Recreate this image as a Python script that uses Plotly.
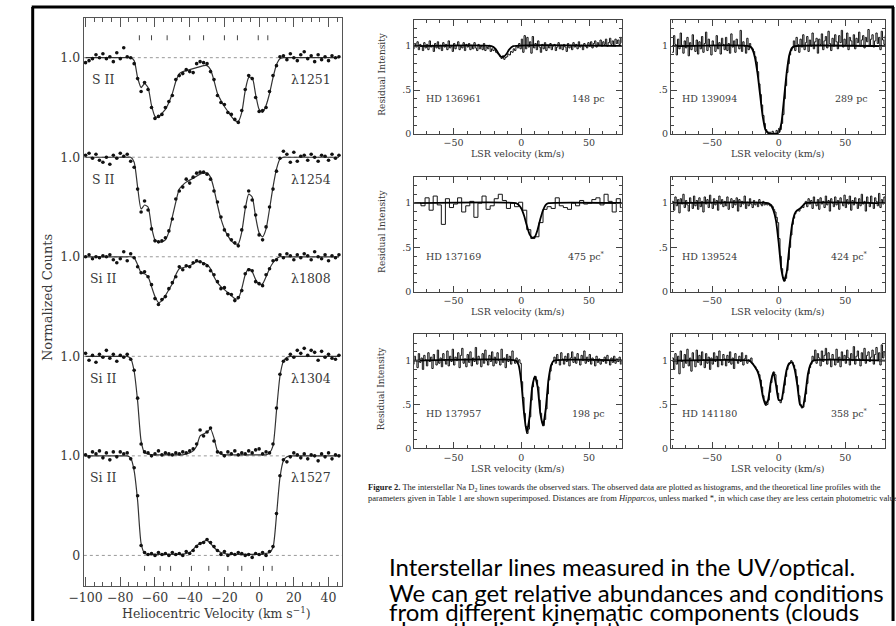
import plotly.graph_objects as go

W, H = 896, 626
def fx(p): return p / W
def fy(p): return 1 - p / H

SERIF = "DejaVu Serif"
GREY = "#3a3a3a"

# ---------------- Left panel: UV absorption lines (normalized counts) -------------
V_LEFT = list(range(-100, 48, 2))  # heliocentric velocity grid (km/s)

S2_1251_FIT = [1, 1, 1, 1, 1, 1, 1, 1, 1, 1, 1, 1, 1, 1,
               0.97, 0.80, 0.70, 0.74, 0.70, 0.52, 0.41, 0.40, 0.44, 0.48, 0.55, 0.64, 0.76, 0.84, 0.86,
               0.87, 0.88, 0.89, 0.90, 0.91, 0.92, 0.92, 0.88, 0.77, 0.64, 0.57, 0.51, 0.46, 0.41, 0.37,
               0.36, 0.45, 0.67, 0.80, 0.80, 0.63, 0.48, 0.45, 0.52, 0.64, 0.80, 0.93, 0.99,
               1, 1, 1, 1, 1, 1, 1, 1, 1, 1, 1, 1, 1, 1, 1, 1, 1]
S2_1254_FIT = [1, 1, 1, 1, 1, 1, 1, 1, 1, 1, 1, 1, 1, 1,
               0.95, 0.70, 0.48, 0.52, 0.50, 0.30, 0.17, 0.15, 0.15, 0.17, 0.25, 0.40, 0.55, 0.68, 0.72,
               0.75, 0.77, 0.79, 0.81, 0.83, 0.84, 0.84, 0.80, 0.68, 0.52, 0.38, 0.28, 0.21, 0.16, 0.13,
               0.13, 0.25, 0.48, 0.63, 0.60, 0.40, 0.24, 0.20, 0.28, 0.48, 0.70, 0.88, 0.98,
               1, 1, 1, 1, 1, 1, 1, 1, 1, 1, 1, 1, 1, 1, 1, 1, 1]
SI2_1808_FIT = [1, 1, 1, 1, 1, 1, 1, 1, 1, 1, 1, 1, 1, 1,
                0.99, 0.92, 0.84, 0.83, 0.80, 0.70, 0.60, 0.54, 0.56, 0.61, 0.67, 0.73, 0.82, 0.88, 0.89,
                0.90, 0.91, 0.93, 0.95, 0.95, 0.94, 0.92, 0.88, 0.80, 0.74, 0.70, 0.67, 0.64, 0.61, 0.58,
                0.58, 0.68, 0.82, 0.88, 0.85, 0.77, 0.72, 0.73, 0.80, 0.88, 0.94, 0.98, 1.00,
                1, 1, 1, 1, 1, 1, 1, 1, 1, 1, 1, 1, 1, 1, 1, 1, 1]
SI2_1304_FIT = [1, 1, 1, 1, 1, 1, 1, 1, 1, 1, 1, 1, 1,
                0.98, 0.85, 0.55, 0.15, 0.03, 0.02,
                0.01, 0.01, 0.01, 0.01, 0.01, 0.01, 0.01, 0.01, 0.01, 0.01,
                0.02, 0.03,
                0.05, 0.10, 0.20, 0.22, 0.24, 0.27, 0.18, 0.05,
                0.02, 0.01, 0.01, 0.01, 0.01, 0.01, 0.01, 0.01, 0.01, 0.01, 0.01, 0.01, 0.01, 0.01,
                0.03, 0.10, 0.45, 0.80, 0.95, 0.99,
                1, 1, 1, 1, 1, 1, 1, 1, 1, 1, 1, 1, 1, 1, 1]
SI2_1527_FIT = [1, 1, 1, 1, 1, 1, 1, 1, 1, 1, 1, 1, 1,
                0.98, 0.85, 0.55, 0.12, 0.02, 0.01,
                0.01, 0.01, 0.01, 0.01, 0.01, 0.01, 0.01, 0.01, 0.01, 0.01,
                0.02, 0.03,
                0.06, 0.10, 0.12, 0.14, 0.15, 0.12, 0.08, 0.05,
                0.03, 0.02, 0.01, 0.01, 0.01, 0.01, 0.01, 0.01, 0.01, 0.01, 0.01, 0.01, 0.01, 0.02,
                0.03, 0.08, 0.40, 0.78, 0.95, 0.99,
                1, 1, 1, 1, 1, 1, 1, 1, 1, 1, 1, 1, 1, 1, 1]

S2_1251_DOTS = [0.95, 0.97, 0.99, 1.03, 1.00, 1.04, 0.99, 1.01, 0.96, 1.05,
                0.99, 1.10, 1.01, 1.00, 0.94, 0.79, 0.66, 0.75, 0.68, 0.50,
                0.39, 0.41, 0.43, 0.50, 0.56, 0.62, 0.78, 0.82, 0.84, 0.88,
                0.86, 0.85, 0.94, 0.96, 0.95, 0.94, 0.86, 0.78, 0.62, 0.55,
                0.53, 0.45, 0.43, 0.38, 0.35, 0.47, 0.68, 0.82, 0.79, 0.60,
                0.46, 0.47, 0.50, 0.66, 0.82, 0.92, 1.01, 1.02, 0.98, 1.04,
                1.00, 0.97, 1.03, 1.06, 0.99, 1.02, 0.96, 1.03, 0.98, 1.01,
                0.97, 1.02, 1.00, 1.01]
S2_1254_DOTS = [1.02, 1.04, 0.99, 1.03, 0.97, 0.95, 1.00, 0.93, 1.02, 0.99,
                1.04, 1.01, 1.03, 0.96, 0.90, 0.68, 0.45, 0.56, 0.47, 0.28,
                0.16, 0.15, 0.16, 0.19, 0.26, 0.38, 0.58, 0.66, 0.70, 0.78,
                0.74, 0.80, 0.84, 0.85, 0.85, 0.83, 0.78, 0.66, 0.55, 0.40,
                0.27, 0.22, 0.17, 0.14, 0.11, 0.27, 0.50, 0.66, 0.57, 0.42,
                0.22, 0.17, 0.30, 0.50, 0.68, 0.86, 0.99, 1.06, 1.03, 0.95,
                1.05, 0.96, 1.01, 1.02, 0.97, 1.03, 1.00, 0.96, 1.02, 1.01,
                0.97, 1.03, 0.99, 1.02]
SI2_1808_DOTS = [1.00, 1.02, 0.98, 1.00, 0.99, 1.01, 1.00, 1.02, 0.97, 0.94,
                 0.98, 1.05, 0.96, 1.03, 0.99, 0.90, 0.84, 0.85, 0.80, 0.72,
                 0.58, 0.52, 0.57, 0.60, 0.68, 0.74, 0.80, 0.90, 0.87, 0.91,
                 0.90, 0.94, 0.96, 0.95, 0.93, 0.91, 0.86, 0.82, 0.75, 0.68,
                 0.69, 0.63, 0.62, 0.56, 0.59, 0.66, 0.83, 0.87, 0.86, 0.75,
                 0.73, 0.71, 0.82, 0.88, 0.96, 0.97, 1.02, 0.99, 1.03, 1.01,
                 0.97, 1.02, 0.99, 1.03, 1.01, 0.97, 1.05, 1.00, 0.98, 1.02,
                 0.96, 1.01, 0.99, 1.02]
SI2_1304_DOTS = [1.03, 0.96, 1.01, 0.94, 1.02, 0.99, 1.06, 0.98, 1.02, 0.95,
                 1.01, 0.99, 1.02, 0.97, 0.86, 0.58, 0.12, 0.04, 0.03, 0.00,
                 0.02, 0.05, 0.01, 0.03, 0.02, 0.01, 0.03, 0.02, 0.04, 0.03,
                 0.05, 0.07, 0.12, 0.26, 0.20, 0.24, 0.28, 0.15, 0.04, 0.03,
                 0.00, 0.04, 0.02, 0.05, 0.01, 0.03, 0.02, 0.05, 0.03, 0.06,
                 0.07, 0.02, 0.04, 0.03, 0.12, 0.48, 0.82, 0.95, 0.97, 1.02,
                 0.99, 1.06, 1.03, 1.08, 1.01, 1.06, 1.04, 0.96, 1.05, 0.99,
                 1.02, 0.98, 0.97, 1.01]
SI2_1527_DOTS = [1.01, 0.99, 1.04, 1.02, 1.05, 0.98, 1.03, 0.96, 1.04, 0.99,
                 1.04, 1.02, 1.03, 0.97, 0.88, 0.60, 0.10, 0.03, 0.01, 0.02,
                 0.00, 0.03, 0.01, 0.02, 0.00, 0.03, 0.01, 0.02, 0.00, 0.04,
                 0.02, 0.05, 0.09, 0.12, 0.13, 0.16, 0.13, 0.09, 0.05, 0.01,
                 0.04, 0.00, 0.02, 0.01, 0.03, 0.02, 0.00, 0.01, -0.02, 0.02,
                 0.01, 0.03, 0.00, 0.04, 0.09, 0.42, 0.80, 0.96, 0.94, 0.99,
                 1.03, 1.01, 0.98, 1.02, 0.97, 1.01, 1.00, 0.95, 1.02, 0.99,
                 1.03, 0.97, 1.01, 1.00]

ION_LABELS = ["S II", "S II", "Si II", "Si II", "Si II"]
LINE_LABELS = ["λ1251", "λ1254", "λ1808", "λ1304", "λ1527"]
LEFT_FITS = [S2_1251_FIT, S2_1254_FIT, SI2_1808_FIT, SI2_1304_FIT, SI2_1527_FIT]
LEFT_DOTS = [S2_1251_DOTS, S2_1254_DOTS, SI2_1808_DOTS, SI2_1304_DOTS, SI2_1527_DOTS]
OFFSETS = [4, 3, 2, 1, 0]

TOP_COMPONENTS = [-69, -62, -53, -40, -32, -20, -12.5, -0.5, 5]
BOTTOM_COMPONENTS = [-66, -57, -51, -39, -29, -18, -10, 2.5, 7.5]

LEFT_XTICKS = [-100, -80, -60, -40, -20, 0, 20, 40]
LEFT_XTICKTEXT = ["−100", "−80", "−60", "−40", "−20", "0", "20", "40"]
LEFT_YTICKS = [0, 1, 2, 3, 4, 5]
LEFT_YTICKTEXT = ["0", "1.0", "1.0", "1.0", "1.0", "1.0"]

for a in LEFT_FITS + LEFT_DOTS:
    assert len(a) == len(V_LEFT), len(a)

# ---------------- Right panels: Na D2 lines (residual intensity) -------------
V_NA = list(range(-80, 81))          # 1 km/s bins
V_NA_C = list(range(-80, 80, 3))     # coarse bins for HD 137169

A_DATA = [0.97, 1.03, 0.99, 1.05, 0.96, 1.02, 1.00, 0.95, 1.04, 0.98,
          1.02, 0.96, 1.06, 0.99, 1.01, 0.94, 1.03, 0.98, 1.05, 0.97,
          1.01, 0.95, 1.04, 0.99, 1.02, 0.96, 1.06, 0.98, 1.00, 0.94,
          1.03, 0.97, 1.01, 1.05, 0.96, 1.00, 0.98, 1.04, 0.95, 1.02,
          0.99, 1.03, 0.96, 1.01, 0.97, 1.04, 0.98, 0.95, 1.02, 0.97,
          1.00, 0.96, 1.03, 0.95, 0.99, 0.97, 1.01, 0.94, 0.97, 0.95,
          0.96, 0.93, 0.92, 0.90, 0.88, 0.86, 0.89, 0.85, 0.87, 0.88,
          0.91, 0.90, 0.94, 0.93, 0.97, 0.95, 1.00, 0.98, 1.03, 0.97,
          1.08, 0.93, 1.12, 0.97, 1.10, 0.99, 1.05, 0.92, 1.11, 0.98,
          1.03, 0.96, 1.06, 0.99, 0.93, 1.02, 0.97, 1.04, 0.95, 1.01,
          0.98, 1.03, 0.96, 1.00, 1.02, 0.95, 0.99, 1.04, 0.97, 1.01,
          0.96, 1.02, 0.99, 0.94, 1.03, 0.98, 1.01, 0.96, 1.04, 0.99,
          1.02, 0.97, 1.05, 0.99, 1.01, 0.96, 1.03, 1.00, 0.98, 1.04,
          1.00, 1.05, 0.98, 1.03, 1.06, 0.99, 1.04, 1.01, 1.07, 1.00,
          1.05, 1.02, 1.08, 1.00, 1.04, 1.09, 1.02, 1.06, 1.01, 1.08,
          1.03, 1.07, 1.02, 1.10, 1.04, 1.06, 1.01, 1.09, 1.05, 1.03,
          1.06]
B_DATA = [0.93, 1.12, 1.02, 0.90, 1.08, 0.97, 1.15, 1.01, 0.92, 1.06,
          0.98, 1.10, 0.89, 1.04, 0.96, 1.13, 1.00, 0.94, 1.07, 0.91,
          1.05, 0.97, 1.11, 0.93, 1.03, 1.16, 0.95, 1.08, 0.99, 0.90,
          1.06, 1.01, 0.94, 1.12, 0.97, 1.04, 0.91, 1.09, 1.02, 0.96,
          1.10, 0.95, 1.03, 0.92, 1.14, 0.99, 1.06, 0.93, 1.08, 1.01,
          0.97, 1.18, 0.94, 1.05, 1.00, 0.92, 1.09, 0.96, 1.03, 0.99,
          0.97, 0.94, 0.88, 0.82, 0.71, 0.57, 0.45, 0.33, 0.21, 0.12,
          0.05, 0.03, 0.01, 0.02, 0.00, 0.03, 0.01, 0.00, 0.04, 0.02,
          0.02, 0.05, 0.12, 0.22, 0.40, 0.55, 0.70, 0.80, 0.90, 0.95,
          0.98, 1.06, 0.95, 1.10, 1.02, 0.93, 1.08, 0.99, 1.13, 0.96,
          1.04, 1.11, 0.94, 1.07, 1.00, 1.15, 0.97, 1.05, 1.09, 0.92,
          1.08, 1.02, 1.14, 0.96, 1.06, 1.11, 0.98, 1.17, 1.03, 0.95,
          1.09, 1.00, 1.13, 1.05, 0.97, 1.12, 1.04, 1.18, 0.99, 1.08,
          1.02, 1.15, 0.96, 1.10, 1.06, 1.01, 1.13, 0.97, 1.09, 1.04,
          1.16, 1.00, 1.07, 1.12, 0.98, 1.10, 1.05, 1.19, 1.01, 1.08,
          1.13, 0.99, 1.06, 1.15, 1.03, 1.10, 0.96, 1.17, 1.07, 1.02,
          1.12]
C_DATA = [1.00, 1.00, 0.97, 1.06, 0.92, 1.08, 0.98, 0.76, 1.05, 0.95,
          0.99, 1.06, 0.90, 0.97, 1.02, 0.84, 1.00, 1.08, 0.93, 0.97,
          1.05, 1.10, 1.03, 0.94, 1.00, 0.96, 1.01, 0.92, 0.70, 0.60,
          0.62, 0.78, 0.93, 0.96, 0.94, 1.06, 0.97, 0.95, 0.93, 1.00,
          0.97, 1.03, 0.99, 1.00, 1.04, 1.06, 0.98, 1.10, 1.02, 0.90,
          1.05, 0.95, 1.02, 1.00]
D_DATA = [1.02, 0.92, 1.07, 0.97, 1.04, 0.89, 1.05, 0.99, 1.10, 0.95,
          1.03, 0.98, 0.91, 1.06, 1.01, 0.94, 1.08, 0.97, 1.03, 0.93,
          1.06, 0.96, 1.02, 0.90, 1.07, 0.99, 1.04, 0.95, 1.09, 1.00,
          0.94, 1.05, 0.98, 1.03, 0.92, 1.08, 0.99, 1.04, 0.96, 1.02,
          0.97, 1.07, 0.93, 1.01, 1.05, 0.95, 1.03, 0.98, 1.06, 0.91,
          1.04, 0.96, 1.02, 0.99, 1.08, 0.94, 1.01, 0.97, 1.05, 0.99,
          0.95, 1.03, 0.98, 1.01, 0.96, 1.04, 0.99, 0.97, 1.02, 0.98,
          1.00, 0.98, 0.99, 0.97, 0.98, 0.96, 0.93, 0.90, 0.84, 0.78,
          0.60, 0.40, 0.26, 0.16, 0.12, 0.15, 0.24, 0.36, 0.50, 0.64,
          0.76, 0.83, 0.88, 0.91, 0.92, 0.91, 0.94, 0.96, 0.95, 0.99,
          1.02, 0.96, 1.05, 0.99, 1.03, 0.94, 1.07, 1.00, 0.97, 1.04,
          0.93, 1.06, 0.99, 1.02, 0.95, 1.08, 0.98, 1.03, 0.91, 1.05,
          1.00, 0.96, 1.07, 0.98, 1.03, 0.93, 1.06, 1.01, 0.97, 1.09,
          0.95, 1.04, 0.99, 1.08, 0.92, 1.03, 0.98, 1.06, 1.00, 0.94,
          1.05, 0.97, 1.10, 0.99, 1.02, 0.91, 1.07, 1.01, 0.96, 1.08,
          1.00, 0.94, 1.06, 1.02, 0.97, 1.11, 0.95, 1.04, 0.99, 1.07,
          1.01]
E_DATA = [0.96, 1.05, 1.00, 0.92, 1.08, 0.98, 1.03, 0.90, 1.06, 1.01,
          0.94, 1.09, 0.99, 1.04, 0.91, 1.07, 1.00, 0.95, 1.12, 0.97,
          1.03, 0.93, 1.08, 1.00, 0.96, 1.11, 0.94, 1.05, 0.99, 1.13,
          0.95, 1.04, 1.00, 1.09, 0.92, 1.06, 1.14, 0.97, 1.02, 0.93,
          1.07, 0.98, 1.10, 0.94, 1.03, 0.99, 1.15, 0.96, 1.05, 1.01,
          0.93, 1.08, 0.97, 1.12, 1.00, 0.95, 1.06, 0.99, 1.10, 0.94,
          1.04, 0.97, 1.09, 1.00, 0.95, 1.13, 0.98, 1.03, 0.92, 1.07,
          0.99, 1.05, 0.96, 1.11, 1.00, 0.97, 1.03, 0.98, 1.01, 0.97,
          0.76, 0.58, 0.40, 0.25, 0.17, 0.22, 0.36, 0.55, 0.70, 0.80,
          0.82, 0.78, 0.70, 0.55, 0.40, 0.30, 0.26, 0.33, 0.45, 0.62,
          0.78, 0.88, 0.95, 0.99, 1.04, 0.97, 1.07, 1.01, 0.95, 1.09,
          1.02, 0.96, 1.05, 0.99, 1.08, 0.94, 1.03, 1.10, 0.98, 1.04,
          0.97, 1.08, 1.01, 0.95, 1.06, 1.00, 1.11, 0.97, 1.04, 0.99,
          1.07, 0.96, 1.03, 1.00, 0.94, 1.05, 0.98, 1.02, 0.96, 1.01,
          0.99, 1.04, 0.97, 1.06, 1.00, 0.95, 1.03, 0.98, 1.05, 0.97,
          1.02, 0.99, 1.04, 0.96, 1.01, 0.98, 1.03, 0.97, 1.00, 1.02,
          0.99]
F_DATA = [1.03, 0.90, 1.08, 0.96, 1.05, 0.85, 1.11, 0.99, 0.92, 1.07,
          0.97, 1.13, 0.94, 1.03, 0.88, 1.09, 1.00, 0.93, 1.12, 0.98,
          1.06, 0.95, 1.10, 1.01, 0.92, 1.08, 0.97, 1.04, 0.90, 1.03,
          0.96, 1.09, 0.99, 1.05, 0.93, 1.11, 1.00, 0.95, 1.07, 1.02,
          0.94, 1.06, 0.98, 1.10, 0.96, 1.03, 0.91, 1.08, 1.00, 0.97,
          1.05, 0.99, 1.09, 0.95, 1.02, 1.06, 0.97, 1.01, 0.99, 1.03,
          0.97, 0.95, 0.93, 0.90, 0.88, 0.84, 0.78, 0.70, 0.60, 0.54,
          0.49, 0.50, 0.55, 0.64, 0.75, 0.83, 0.87, 0.84, 0.72, 0.63,
          0.55, 0.52, 0.56, 0.63, 0.72, 0.82, 0.90, 0.95, 0.97, 1.00,
          0.98, 0.95, 0.90, 0.82, 0.72, 0.60, 0.50, 0.46, 0.47, 0.53,
          0.62, 0.74, 0.85, 0.92, 0.96, 1.05, 1.00, 1.12, 0.97, 1.08,
          1.03, 0.94, 1.11, 0.99, 1.06, 1.14, 0.96, 1.09, 1.02, 0.93,
          1.07, 1.01, 0.95, 1.13, 0.98, 1.04, 0.93, 1.10, 1.00, 1.06,
          0.97, 1.12, 1.03, 0.95, 1.08, 1.00, 1.16, 0.96, 1.05, 1.11,
          1.02, 0.94, 1.09, 1.01, 1.14, 0.97, 1.06, 1.10, 0.99, 1.04,
          1.12, 0.96, 1.07, 1.15, 1.00, 1.09, 0.95, 1.18, 1.03, 1.10,
          1.05]

A_FIT_V = [-80, -22, -19, -17, -15, -13, -11, -9, -6, 80]
A_FIT_Y = [1, 1, 0.97, 0.92, 0.88, 0.88, 0.91, 0.96, 1, 1]
B_FIT_V = [-80, -22, -20, -18, -16, -14, -12, -10, -8, -6, -4, -2, 0, 2, 4, 6, 8, 10, 12, 80]
B_FIT_Y = [1, 1, 0.97, 0.88, 0.70, 0.45, 0.20, 0.05, 0.01, 0, 0, 0, 0.02, 0.12, 0.40, 0.70, 0.90, 0.98, 1, 1]
C_FIT_V = [-80, -4, -2, 0, 2, 4, 6, 8, 10, 12, 14, 16, 18, 20, 80]
C_FIT_Y = [1, 1, 0.98, 0.94, 0.86, 0.75, 0.65, 0.61, 0.62, 0.70, 0.82, 0.92, 0.98, 1, 1]
D_FIT_V = [-80, -8, -6, -4, -2, 0, 2, 4, 6, 8, 10, 12, 14, 16, 18, 20, 80]
D_FIT_Y = [1, 1, 0.98, 0.92, 0.80, 0.55, 0.25, 0.12, 0.22, 0.50, 0.75, 0.88, 0.92, 0.94, 0.97, 1, 1]
E_FIT_V = [-80, -4, -2, 0, 2, 4, 6, 8, 10, 12, 14, 16, 18, 20, 22, 24, 80]
E_FIT_Y = [1, 1, 0.95, 0.75, 0.40, 0.18, 0.35, 0.70, 0.82, 0.70, 0.40, 0.26, 0.45, 0.78, 0.95, 1, 1]
F_FIT_V = [-80, -22, -20, -18, -16, -14, -12, -10, -8, -6, -4, -2, 0, 2, 4, 6, 8, 10, 12,
           14, 16, 18, 20, 22, 24, 26, 80]
F_FIT_Y = [1, 1, 0.97, 0.93, 0.88, 0.78, 0.60, 0.50, 0.55, 0.75, 0.87, 0.72, 0.55, 0.55, 0.72,
           0.90, 0.97, 0.98, 0.90, 0.72, 0.50, 0.47, 0.62, 0.85, 0.96, 1, 1]

STARS = ["HD 136961", "HD 139094", "HD 137169", "HD 139524", "HD 137957", "HD 141180"]
DISTANCES = ["148 pc", "289 pc", "475 pc<sup>*</sup>", "424 pc<sup>*</sup>", "198 pc", "358 pc<sup>*</sup>"]

for a in (A_DATA, B_DATA, D_DATA, E_DATA, F_DATA):
    assert len(a) == len(V_NA), len(a)
assert len(C_DATA) == len(V_NA_C)

panel_data = [
    (V_NA, A_DATA, A_FIT_V, A_FIT_Y),
    (V_NA, B_DATA, B_FIT_V, B_FIT_Y),
    (V_NA_C, C_DATA, C_FIT_V, C_FIT_Y),
    (V_NA, D_DATA, D_FIT_V, D_FIT_Y),
    (V_NA, E_DATA, E_FIT_V, E_FIT_Y),
    (V_NA, F_DATA, F_FIT_V, F_FIT_Y),
]

# ---------------- geometry (pixels) ----------------
LEFT_BOX = (70, 333, 18, 591)          # x0, x1, ytop, ybottom
COLS = [((406, 617), (-79, 74)), ((667, 885), (-81, 80))]
ROWS = [(20, 135), (178, 294), (337, 452)]

fig = go.Figure()
layout = dict(width=W, height=H, margin=dict(l=0, r=0, t=0, b=0),
              paper_bgcolor="white", plot_bgcolor="white", showlegend=False)

layout["xaxis"] = dict(domain=[fx(LEFT_BOX[0]), fx(LEFT_BOX[1])], range=[-101, 48], anchor="y",
                       showline=True, linecolor="#555", linewidth=1.2, mirror="allticks",
                       ticks="inside", ticklen=9, tickwidth=1.2, tickcolor="#555",
                       tickvals=LEFT_XTICKS, ticktext=LEFT_XTICKTEXT,
                       minor=dict(dtick=5, tick0=0, ticklen=4, ticks="inside", tickcolor="#555"),
                       showgrid=False, zeroline=False,
                       tickfont=dict(family=SERIF, size=12.5, color=GREY))
layout["yaxis"] = dict(domain=[fy(LEFT_BOX[3]), fy(LEFT_BOX[2])], range=[-0.31, 5.40], anchor="x",
                       showline=True, linecolor="#555", linewidth=1.2, mirror=True,
                       ticks="", tickvals=LEFT_YTICKS, ticktext=LEFT_YTICKTEXT,
                       showgrid=False, zeroline=False,
                       tickfont=dict(family=SERIF, size=12.5, color=GREY))

annotations = []
shapes = []

def note(x, y, text, size, family=SERIF, color=GREY, xanchor="center", yanchor="middle",
         xref="paper", yref="paper", angle=0):
    annotations.append(dict(x=x, y=y, xref=xref, yref=yref, text=text, showarrow=False,
                            xanchor=xanchor, yanchor=yanchor, textangle=angle,
                            font=dict(family=family, size=size, color=color)))

for off, fit, dots, ion, lam in zip(OFFSETS, LEFT_FITS, LEFT_DOTS, ION_LABELS, LINE_LABELS):
    fig.add_trace(go.Scatter(x=V_LEFT, y=[v + off for v in fit], mode="lines",
                             line=dict(color="#333", width=1.2, shape="spline", smoothing=0.6),
                             xaxis="x", yaxis="y", hoverinfo="skip"))
    fig.add_trace(go.Scatter(x=V_LEFT, y=[v + off for v in dots], mode="markers",
                             marker=dict(color="#111", size=3.6),
                             xaxis="x", yaxis="y", hoverinfo="skip"))
    note(-90, off + 0.78, ion, 12.5, xref="x", yref="y")
    note(30, off + 0.78, lam, 12.5, xref="x", yref="y")

for lvl in LEFT_YTICKS:
    shapes.append(dict(type="line", xref="x domain", yref="y", x0=0, x1=1, y0=lvl, y1=lvl,
                       line=dict(color="#999", width=1, dash="dot"), layer="below"))

mx, my = [], []
for v in TOP_COMPONENTS:
    mx += [v, v, None]; my += [5.175, 5.225, None]
for v in BOTTOM_COMPONENTS:
    mx += [v, v, None]; my += [-0.155, -0.105, None]
fig.add_trace(go.Scatter(x=mx, y=my, mode="lines", line=dict(color="#444", width=1),
                         xaxis="x", yaxis="y", hoverinfo="skip"))

note(fx(33), fy(300), "Normalized Counts", 13, angle=-90)
note(fx(205), fy(618), "Heliocentric Velocity (km s<sup>−1</sup>)", 12.5)

# Right panels
for k, ((vx, data, fv, fyv), star, dist) in enumerate(zip(panel_data, STARS, DISTANCES)):
    row, col = divmod(k, 2)
    (cx0, cx1), xr = COLS[col]
    ry0, ry1 = ROWS[row]
    n = k + 2
    layout[f"xaxis{n}"] = dict(domain=[fx(cx0), fx(cx1)], range=list(xr), anchor=f"y{n}",
                               showline=True, linecolor="#444", linewidth=1, mirror="allticks",
                               ticks="inside", ticklen=6, tickcolor="#444",
                               tickvals=[-50, 0, 50], ticktext=["−50", "0", "50"],
                               minor=dict(dtick=10, tick0=0, ticklen=3, ticks="inside", tickcolor="#444"),
                               showgrid=False, zeroline=False,
                               tickfont=dict(family=SERIF, size=9.5, color=GREY))
    layout[f"yaxis{n}"] = dict(domain=[fy(ry1), fy(ry0)], range=[0, 1.3], anchor=f"x{n}",
                               showline=True, linecolor="#444", linewidth=1, mirror="allticks",
                               ticks="inside", ticklen=6, tickcolor="#444",
                               tickvals=[0, 0.5, 1], ticktext=["0", ".5", "1"],
                               minor=dict(dtick=0.1, tick0=0, ticklen=3, ticks="inside", tickcolor="#444"),
                               showgrid=False, zeroline=False,
                               tickfont=dict(family=SERIF, size=9.5, color=GREY))
    fig.add_trace(go.Scatter(x=vx, y=data, mode="lines",
                             line=dict(color="#151515", width=1, shape="hv"),
                             xaxis=f"x{n}", yaxis=f"y{n}", hoverinfo="skip"))
    fig.add_trace(go.Scatter(x=fv, y=fyv, mode="lines",
                             line=dict(color="black", width=1.8, shape="spline", smoothing=0.5),
                             xaxis=f"x{n}", yaxis=f"y{n}", hoverinfo="skip"))
    note(0.045, 0.40, star, 9.5, xanchor="left", xref=f"x{n} domain", yref=f"y{n}")
    note(0.93, 0.40, dist, 9.5, xanchor="right", xref=f"x{n} domain", yref=f"y{n}")
    note(fx((cx0 + cx1) / 2), fy(ry1 + 20), "LSR velocity (km/s)", 9.5)
    if col == 0:
        note(fx(373), fy((ry0 + ry1) / 2 - 3), "Residual Intensity", 9, angle=-90)

# Caption
CAPTION = [
    "<b>Figure 2.</b> The interstellar Na D<sub>2</sub> lines towards the observed stars. The observed data are plotted as histograms, and the theoretical line profiles with the",
    "parameters given in Table 1 are shown superimposed. Distances are from <i>Hipparcos</i>, unless marked *, in which case they are less certain photometric values",
]
for i, line in enumerate(CAPTION):
    note(fx(357), fy(491 + 11 * i), line, 8.5, family="Liberation Serif", color="#222", xanchor="left")

# Slide text
SLIDE_TEXT = [
    ("Interstellar lines measured in the UV/optical.", 571),
    ("We can get relative abundances and conditions", 597),
    ("from different kinematic components (clouds", 616),
    ("along the line of sight)", 635),
]
for txt, yc in SLIDE_TEXT:
    note(fx(378), fy(yc), txt, 24, family="Lato", color="black", xanchor="left")

# Slide frame
for x0, y0, x1, y1 in [(18, 7, 18, 626), (17, 7, 894, 7), (893, 7, 893, 626)]:
    shapes.append(dict(type="line", xref="paper", yref="paper", x0=fx(x0), y0=fy(y0), x1=fx(x1), y1=fy(y1),
                       line=dict(color="black", width=3)))

layout["annotations"] = annotations
layout["shapes"] = shapes
fig.update_layout(**layout)
fig.write_html("out.html")
